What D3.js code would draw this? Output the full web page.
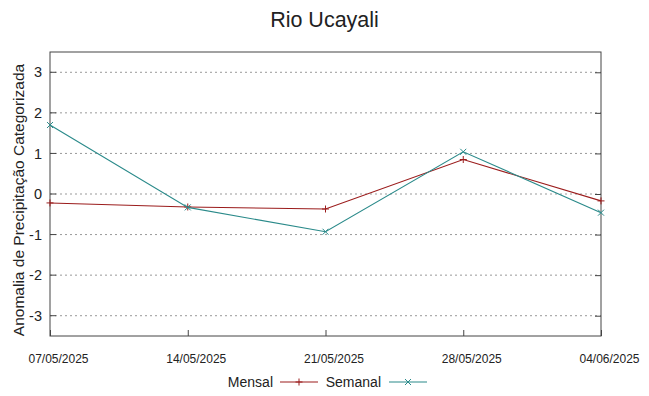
<!DOCTYPE html>
<html>
<head>
<meta charset="utf-8">
<script src="https://cdn.jsdelivr.net/npm/d3@7"></script>
<style>
body { margin: 0; background: #fff; }
svg text { font-family: "Liberation Sans", Arial, sans-serif; fill: #222; }
.grid line { stroke: #999; stroke-dasharray: 2,3; }
</style>
</head>
<body>
<div class="chart"></div>
<script>
var dates = ["07/05/2025", "14/05/2025", "21/05/2025", "28/05/2025", "04/06/2025"];
var mensal = [-0.22, -0.32, -0.37, 0.85, -0.17];
var semanal = [1.70, -0.33, -0.93, 1.04, -0.46];
var yTicks = [-3, -2, -1, 0, 1, 2, 3];

var ww = 649, hh = 396
  , margin = {top: 52, right: 48, bottom: 60, left: 50}
  , width = ww - margin.left - margin.right
  , height = hh - margin.top - margin.bottom
  , parse = d3.timeParse("%d/%m/%Y")
  , fmt = d3.timeFormat("%d/%m/%Y");

var svgm = d3.select('.chart').append('svg').attr('width', ww).attr('height', hh);

var x = d3.scaleTime().domain(d3.extent(dates, parse)).range([0, width])
  , y = d3.scaleLinear().domain([-3.5, 3.5]).range([height, 0]);

var svg = svgm.append('g').attr('transform', `translate(${margin.left},${margin.top})`);

// horizontal grid
svg.append('g').attr('class', 'grid')
  .selectAll('line').data(yTicks).enter().append('line')
  .attr('x1', 0).attr('x2', width)
  .attr('y1', d => y(d)).attr('y2', d => y(d));

// border + inward ticks (gnuplot style)
svg.append('rect').attr('width', width).attr('height', height)
  .attr('fill', 'none').attr('stroke', '#444').attr('stroke-width', 1);

var yAxis = d3.axisLeft(y).tickValues(yTicks).tickSize(0).tickPadding(8).tickFormat(d => String(d))
  , yAxisR = d3.axisRight(y).tickValues(yTicks).tickSize(-6).tickFormat('')
  , xAxis = d3.axisBottom(x).tickValues(dates.map(parse)).tickFormat(fmt).tickSize(-6).tickPadding(18);

var gy = svg.append('g').call(yAxis);
gy.select('.domain').remove();
gy.selectAll('text').style('font-size', '14.5px');

var gyr = svg.append('g').attr('transform', `translate(${width},0)`).call(yAxisR);
gyr.select('.domain').remove();
gyr.selectAll('line').attr('stroke', '#444');

var gx = svg.append('g').attr('transform', `translate(0,${height})`).call(xAxis);
gx.select('.domain').remove();
gx.selectAll('line').attr('stroke', '#444');
gx.selectAll('text').style('font-size', '12px').attr('dx', 8);

// left ticks inward
svg.append('g').selectAll('line').data(yTicks).enter().append('line')
  .attr('x1', 0).attr('x2', 6).attr('y1', d => y(d)).attr('y2', d => y(d))
  .attr('stroke', '#444');

var series = [
  {name: 'Mensal', values: mensal, color: '#9b1c1c', mark: 'plus'},
  {name: 'Semanal', values: semanal, color: '#2a8a8a', mark: 'cross'}
];

var line = d3.line().x((d, i) => x(parse(dates[i]))).y(d => y(d));

function marker(g, type, cx, cy, color) {
  var s = 3.5;
  var p = type === 'plus'
    ? `M${cx - s},${cy}H${cx + s}M${cx},${cy - s}V${cy + s}`
    : `M${cx - 3},${cy - 3}L${cx + 3},${cy + 3}M${cx - 3},${cy + 3}L${cx + 3},${cy - 3}`;
  g.append('path').attr('d', p).attr('stroke', color).attr('stroke-width', 1).attr('fill', 'none');
}

series.forEach(function(s) {
  svg.append('path').datum(s.values)
    .attr('d', line).attr('fill', 'none')
    .attr('stroke', s.color).attr('stroke-width', 1.1);
  var g = svg.append('g');
  s.values.forEach(function(v, i) {
    marker(g, s.mark, x(parse(dates[i])), y(v), s.color);
  });
});

// title
svgm.append('text').attr('x', ww / 2).attr('y', 27).attr('text-anchor', 'middle')
  .style('font-size', '21.5px').text('Rio Ucayali');

// y label
svgm.append('text')
  .attr('transform', `translate(24,${margin.top + height / 2 + 6}) rotate(-90)`)
  .attr('text-anchor', 'middle').style('font-size', '15.5px')
  .text('Anomalia de Precipitação Categorizada');

// legend
var leg = svgm.append('g').attr('transform', 'translate(0,382)');
var legItems = [
  {label: 'Mensal', tx: 273, lx: 280, s: series[0]},
  {label: 'Semanal', tx: 381, lx: 389, s: series[1]}
];
legItems.forEach(function(it) {
  leg.append('text').attr('x', it.tx).attr('y', 5).attr('text-anchor', 'end')
    .style('font-size', '14px').text(it.label);
  leg.append('line').attr('x1', it.lx).attr('x2', it.lx + 38).attr('y1', 0).attr('y2', 0)
    .attr('stroke', it.s.color).attr('stroke-width', 1.1);
  marker(leg, it.s.mark, it.lx + 19, 0, it.s.color);
});
</script>
</body>
</html>
